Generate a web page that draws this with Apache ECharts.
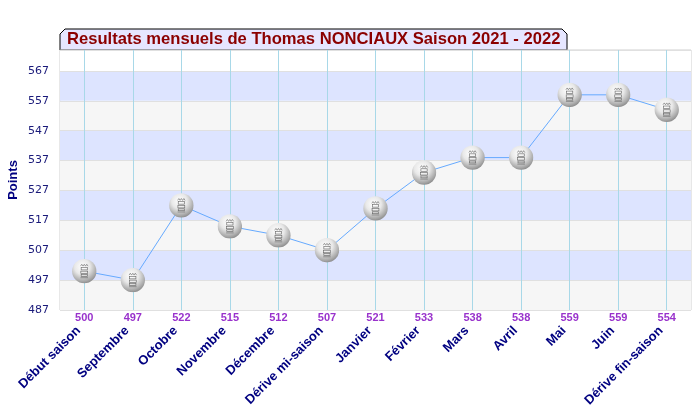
<!DOCTYPE html>
<html>
<head>
<meta charset="utf-8">
<script src="https://cdn.jsdelivr.net/npm/echarts@6/dist/echarts.min.js"></script>
<style>html,body{margin:0;padding:0;background:#fff}#c{width:700px;height:420px}</style>
</head>
<body>
<div id="c"></div>
<script>
var categories = ['Début saison','Septembre','Octobre','Novembre','Décembre','Dérive mi-saison','Janvier','Février','Mars','Avril','Mai','Juin','Dérive fin-saison'];
var points = [500,497,522,515,512,507,521,533,538,538,559,559,554];
var yMin = 487, yMax = 574, yStep = 10;
var titleText = 'Resultats mensuels de Thomas NONCIAUX Saison 2021 - 2022';

var sphereSvg = '<svg xmlns="http://www.w3.org/2000/svg" width="40" height="40" viewBox="0 0 40 40">' +
  '<defs><radialGradient id="g" cx="0.42" cy="0.32" r="0.7">' +
  '<stop offset="0" stop-color="#ffffff"/><stop offset="0.45" stop-color="#e8e8e8"/>' +
  '<stop offset="0.85" stop-color="#a8a8a8"/><stop offset="1" stop-color="#8a8a8a"/></radialGradient></defs>' +
  '<circle cx="20" cy="20" r="19.5" fill="url(#g)"/>' +
  '<g fill="none" stroke="#666" stroke-width="1">' +
  '<path d="M14 12 l2 -3 l2 3 l2 -3 l2 3 l2 -3 l2 3"/>' +
  '<rect x="15" y="14" width="10" height="4"/><rect x="14.5" y="20" width="11" height="4"/>' +
  '<rect x="15" y="25.5" width="10" height="3"/><path d="M14 30.5 h12"/></g></svg>';
var sphere = 'image://data:image/svg+xml;charset=utf-8,' + encodeURIComponent(sphereSvg);

var bandColors = [];
for (var v = yMin, i = 0; v < yMax; v += yStep, i++) {
  bandColors.push(v + yStep > yMax ? '#ffffff' : (i % 2 === 0 ? '#f6f6f6' : '#dde4ff'));
}

var chart = echarts.init(document.getElementById('c'), null, {renderer: 'canvas'});
chart.setOption({
  animation: false,
  backgroundColor: '#ffffff',
  title: {
    text: titleText,
    left: 67, top: 31,
    padding: 0,
    textStyle: {fontFamily: 'Liberation Sans, Arial', fontWeight: 'bold', fontSize: 16.6, color: '#8b0000'}
  },
  graphic: [{
    type: 'polygon', z: -1, silent: true,
    shape: {points: [[60,34],[65,29],[562,29],[567,34],[567,50],[60,50]]},
    style: {fill: '#e6e6ff', stroke: '#000', lineWidth: 1}
  }],
  grid: {left: 60, right: 9, top: 50, bottom: 110, show: true, containLabel: false, outerBoundsMode: 'none',
    borderColor: '#d0d0d0', borderWidth: 1, backgroundColor: 'transparent'},
  xAxis: [{
    type: 'category', data: points.map(String), position: 'bottom',
    axisLine: {show: false}, axisTick: {show: false}, splitLine: {show: false},
    axisLabel: {margin: 2, color: '#9932cc', fontWeight: 'bold', fontSize: 11, fontFamily: 'Liberation Sans, Arial', interval: 0}
  }, {
    type: 'category', data: categories, position: 'bottom',
    axisLine: {show: false}, axisTick: {show: false}, splitLine: {show: false},
    axisLabel: {margin: 13, rotate: 45, padding: [0, 8, 0, 0], color: '#000080', fontWeight: 'bold', fontSize: 13, fontFamily: 'Liberation Sans, Arial', interval: 0}
  }],
  yAxis: {
    type: 'value', min: yMin, max: yMax, interval: yStep,
    name: 'Points', nameLocation: 'middle', nameGap: 40, nameRotate: 90, nameMoveOverlap: false,
    nameTextStyle: {color: '#000080', fontWeight: 'bold', fontSize: 13, fontFamily: 'Liberation Sans, Arial'},
    axisLine: {show: false}, axisTick: {show: false},
    axisLabel: {margin: 11, color: '#1a1a7a', fontSize: 11, fontFamily: 'DejaVu Sans, Verdana',
      formatter: function (v) { return v >= yMax ? '' : v; }},
    splitLine: {show: true, lineStyle: {color: '#e0e0e0', width: 1}},
    splitArea: {show: true, areaStyle: {color: bandColors}}
  },
  series: [{
    type: 'line', data: points, xAxisIndex: 0,
    symbol: sphere, symbolSize: 25,
    lineStyle: {color: '#66aaff', width: 1},
    itemStyle: {color: '#66aaff'},
    z: 5,
    markLine: {
      silent: true, symbol: ['none','none'], label: {show: false},
      lineStyle: {color: '#a8d8e8', type: 'solid', width: 1},
      z: 1,
      data: points.map(function (p, i) { return {xAxis: i}; })
    }
  }]
});
</script>
</body>
</html>
